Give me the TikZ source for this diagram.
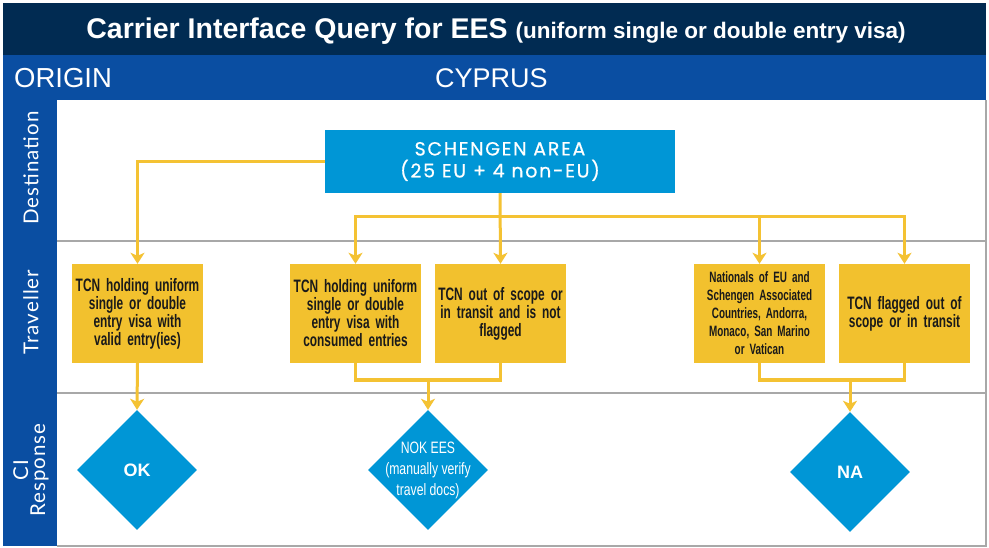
\documentclass[tikz,border=0pt]{standalone}
\usepackage{fontspec}
\setmainfont{Liberation Sans}
\newfontfamily\condfont[FakeStretch=0.66]{Liberation Sans}
\newfontfamily\dcondfont[FakeStretch=0.74]{Liberation Sans}
\newfontfamily\titlefont{Liberation Sans}
\newfontfamily\geofont[LetterSpace=9,FakeBold=0.6]{Poppins}
\newfontfamily\sidefont[LetterSpace=5]{Lato}
\usetikzlibrary{shapes.geometric,arrows.meta}
\definecolor{navy}{HTML}{012B52}
\definecolor{band}{HTML}{0A4EA2}
\definecolor{cyanbox}{HTML}{0096D6}
\definecolor{ybox}{HTML}{F2C12E}
\definecolor{yline}{HTML}{F4C233}
\definecolor{gline}{HTML}{A8A8A8}
\definecolor{boxtext}{HTML}{1A1A1A}
\tikzset{
  ybx/.style={fill=ybox, draw=none, minimum width=131pt, minimum height=99pt, inner sep=0pt,
    text width=129pt, align=center, text=boxtext, font=\condfont\bfseries\fontsize{18}{18}\selectfont},
  dia/.style={diamond, fill=cyanbox, draw=none, minimum width=120pt, minimum height=120pt, inner sep=0pt, aspect=1},
  dlab/.style={text=white, align=center, font=\dcondfont\fontsize{16.5}{21}\selectfont},
  blab/.style={text=white, align=center, font=\titlefont\bfseries\fontsize{18}{20}\selectfont},
  conn/.style={draw=yline, line width=3pt},
  arr/.style={conn, -{Stealth[length=11pt,width=14pt,inset=3pt]}},
  side/.style={rotate=90, text=white, align=center, font=\sidefont\fontsize{20.5}{17}\selectfont},
  gl/.style={draw=gline, line width=2pt},
}
\begin{document}
\begin{tikzpicture}[x=1pt,y=-1pt]
\useasboundingbox (0,0) rectangle (989,548);
\fill[white] (0,0) rectangle (989,548);
% frames
\fill[navy] (3,3) rectangle (986,55);
\fill[band] (3,55) rectangle (986,100);
\fill[band] (3,100) rectangle (57,546);
\draw[gline, line width=1.5pt] (986,100) -- (986,546) -- (57,546);
\draw[gl] (57,241) -- (986,241);
\draw[gl] (57,393) -- (986,393);
% header texts
\node[text=white, anchor=center] (title) at (496,31)
  {\titlefont\bfseries\fontsize{28.5}{30}\selectfont Carrier Interface Query for EES\ \fontsize{22.5}{24}\selectfont(uniform single or double entry visa)};
\node[text=white, anchor=west, inner sep=0pt] (origin) at (14,78) {\titlefont\fontsize{27.5}{30}\selectfont ORIGIN};
\node[text=white, anchor=west, inner sep=0pt] (cyprus) at (435,78) {\titlefont\fontsize{27}{30}\selectfont CYPRUS};
% side labels
\node[side] (lDest) at (31,168) {Destination};
\node[side] (lTrav) at (31,312) {Traveller};
\node[side] (lResp) at (31,470) {CI\\Response};
% main nodes
\node[fill=cyanbox, minimum width=350pt, minimum height=63pt, inner sep=0pt, align=center, text=white,
  font=\geofont\fontsize{19}{22}\selectfont] (sch) at (500,161.5) {SCHENGEN AREA\\(25 EU + 4 non-EU)};
\node[ybx] (b1) at (137.5,313.5) {TCN holding uniform\\single or double\\entry visa with\\valid entry(ies)};
\node[ybx] (b2) at (355.5,313.5) {TCN holding uniform\\single or double\\entry visa with\\consumed entries};
\node[ybx] (b3) at (500.5,313.5) {TCN out of scope or\\in transit and is not\\flagged};
\node[ybx, font=\condfont\bfseries\fontsize{15}{18}\selectfont] (b4) at (759.5,313.5) {Nationals of EU and\\Schengen Associated\\Countries, Andorra,\\Monaco, San Marino\\or Vatican};
\node[ybx] (b5) at (904.5,313.5) {TCN flagged out of\\scope or in transit};
\node[dia, label={[blab]center:OK}] (d1) at (137,470) {};
\node[dia, label={[dlab]center:NOK EES\\(manually verify\\travel docs)}] (d2) at (428,470) {};
\node[dia, label={[blab]center:NA}] (d3) at (850,472) {};
% connectors
\coordinate (bus) at (500,217);
\coordinate (j1) at (428,380);
\coordinate (j2) at (850,380);
\draw[arr] (sch.west) -| (b1.north);
\draw[arr] (sch.south) -- (b3.north);
\draw[arr] (bus) -| (b2.north);
\draw[arr] (bus) -| (b4.north);
\draw[arr] (bus) -| (b5.north);
\draw[arr] (b1.south) -- (d1.north);
\draw[conn] (b2.south) |- (j1);
\draw[conn] (b3.south) |- (j1);
\draw[arr] (j1) -- (d2.north);
\draw[conn] (b4.south) |- (j2);
\draw[conn] (b5.south) |- (j2);
\draw[arr] (j2) -- (d3.north);
\end{tikzpicture}
\end{document}
